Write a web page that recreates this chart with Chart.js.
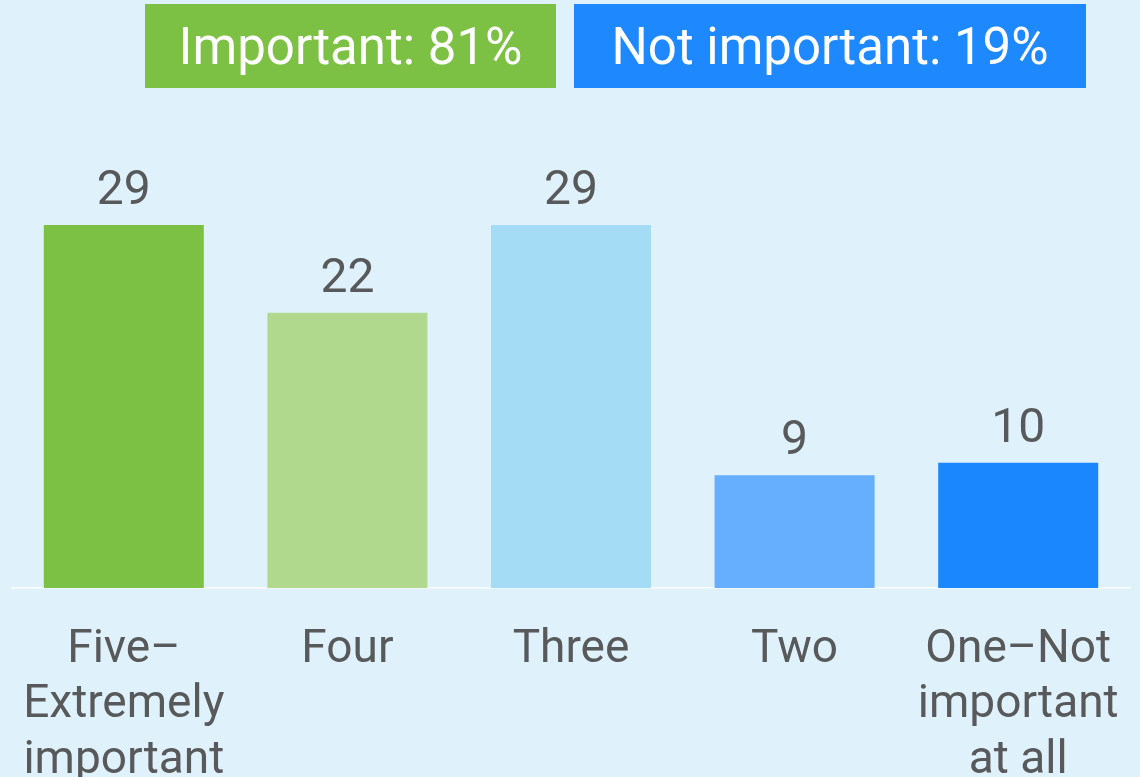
<!DOCTYPE html>
<html>
<head>
<meta charset="utf-8">
<script src="https://cdn.jsdelivr.net/npm/chart.js@4/dist/chart.umd.min.js"></script>
<style>
  html, body { margin: 0; padding: 0; background: #dff1fb; }
  #wrap { position: relative; width: 1140px; height: 777px; overflow: hidden; background: #dff1fb; }
  canvas { position: absolute; left: 0; top: 0; }
  .hdr { position: absolute; top: 4px; height: 84px; color: #ffffff; font-family: Roboto, "Liberation Sans", sans-serif;
         font-size: 51px; line-height: 86px; text-align: center; white-space: nowrap; }
</style>
</head>
<body>
<div id="wrap">
  <canvas id="c" width="1140" height="777"></canvas>
  <div class="hdr" id="h1" style="left:145px;width:411px;background:#7cc144;"></div>
  <div class="hdr" id="h2" style="left:574px;width:512px;background:#1e88ff;"></div>
</div>
<script>
const categories = [["Five\u2013", "Extremely", "important"], ["Four"], ["Three"], ["Two"], ["One\u2013Not", "important", "at all"]];
const values = [29, 22, 29, 9, 10];
const barColors = ["#7cc144", "#b0d98e", "#a4dbf5", "#66aefe", "#1b87ff"];
const headerLabels = ["Important: 81%", "Not important: 19%"];

document.getElementById('h1').textContent = headerLabels[0];
document.getElementById('h2').textContent = headerLabels[1];

const FONT = 'Roboto, "Liberation Sans", sans-serif';
const TEXT = '#58595b';

const valueLabels = {
  id: 'valueLabels',
  afterDatasetsDraw(chart) {
    const ctx = chart.ctx;
    const meta = chart.getDatasetMeta(0);
    ctx.save();
    ctx.fillStyle = TEXT;
    ctx.font = '48px ' + FONT;
    ctx.textAlign = 'center';
    ctx.textBaseline = 'alphabetic';
    meta.data.forEach((bar, i) => {
      ctx.fillText(String(values[i]), bar.x, bar.y - 21);
    });
    ctx.restore();
  }
};

new Chart(document.getElementById('c'), {
  type: 'bar',
  data: {
    labels: categories,
    datasets: [{
      data: values,
      backgroundColor: barColors,
      borderWidth: 0,
      categoryPercentage: 1,
      barPercentage: 0.7156
    }]
  },
  options: {
    responsive: false,
    animation: false,
    devicePixelRatio: 1,
    layout: { padding: { top: 150, left: 12, right: 10, bottom: 0 } },
    plugins: { legend: { display: false }, tooltip: { enabled: false } },
    scales: {
      x: {
        grid: { display: false, drawTicks: false },
        border: { display: true, color: '#ffffff', width: 1.5 },
        ticks: {
          color: TEXT,
          font: { family: FONT, size: 46, lineHeight: 1.2 },
          padding: 35,
          maxRotation: 0,
          autoSkip: false
        },
        afterFit(scale) {
          scale.height = 189;
          scale.paddingLeft = 0;
          scale.paddingRight = 0;
        }
      },
      y: {
        display: false,
        min: 0,
        max: 35
      }
    }
  },
  plugins: [valueLabels]
});
</script>
</body>
</html>
